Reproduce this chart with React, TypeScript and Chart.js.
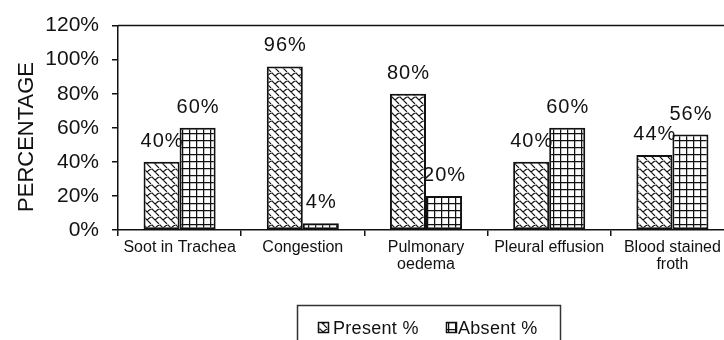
import React, { useEffect, useRef } from 'react';
import { Chart, registerables } from 'chart.js';

Chart.register(...registerables);

const categories: (string | string[])[] = [
  'Soot in Trachea',
  'Congestion',
  ['Pulmonary', 'oedema'],
  'Pleural effusion',
  ['Blood stained', 'froth'],
];
const presentValues = [40, 96, 80, 40, 44];
const absentValues = [60, 4, 20, 60, 56];
const seriesNames = ['Present %', 'Absent %'];
const yAxisTitle = 'PERCENTAGE';

const INK = '#111';
const FONT = '"Liberation Sans", Arial, sans-serif';

function makeGridPattern(ctx: CanvasRenderingContext2D) {
  const c = document.createElement('canvas');
  c.width = 7;
  c.height = 7;
  const g = c.getContext('2d')!;
  g.fillStyle = '#fff';
  g.fillRect(0, 0, 7, 7);
  g.strokeStyle = INK;
  g.lineWidth = 1.5;
  g.beginPath();
  g.moveTo(0.5, 0);
  g.lineTo(0.5, 7);
  g.moveTo(0, 0.5);
  g.lineTo(7, 0.5);
  g.stroke();
  return ctx.createPattern(c, 'repeat')!;
}

function makeShinglePattern(ctx: CanvasRenderingContext2D) {
  const c = document.createElement('canvas');
  c.width = 8;
  c.height = 8;
  const g = c.getContext('2d')!;
  g.fillStyle = '#fff';
  g.fillRect(0, 0, 8, 8);
  g.strokeStyle = INK;
  g.lineWidth = 1.1;
  g.beginPath();
  g.moveTo(0, 1);
  g.lineTo(7, 8);
  g.moveTo(-1, 0);
  g.lineTo(0, 1);
  g.moveTo(3, 4);
  g.lineTo(6, 1.5);
  g.lineTo(8, 1);
  g.stroke();
  return ctx.createPattern(c, 'repeat')!;
}

export default function App() {
  const ref = useRef<HTMLCanvasElement | null>(null);

  useEffect(() => {
    const canvas = ref.current!;
    const ctx = canvas.getContext('2d')!;
    const shingle = makeShinglePattern(ctx);
    const grid = makeGridPattern(ctx);
    const patterns = [shingle, grid];

    const dataLabels = {
      id: 'dataLabels',
      afterDatasetsDraw(chart: any) {
        const c = chart.ctx;
        c.save();
        c.font = `20px ${FONT}`;
        (c as any).letterSpacing = '1px';
        c.fillStyle = INK;
        c.textAlign = 'center';
        c.textBaseline = 'alphabetic';
        chart.data.datasets.forEach((ds: any, i: number) => {
          const meta = chart.getDatasetMeta(i);
          meta.data.forEach((bar: any, j: number) => {
            c.fillText(ds.data[j] + '%', bar.x + 0.5, bar.y - 15);
          });
        });
        c.restore();
      },
    };

    const frame = {
      id: 'frame',
      afterDraw(chart: any) {
        const c = chart.ctx;
        const a = chart.chartArea;
        c.save();
        c.strokeStyle = INK;
        c.lineWidth = 1.5;
        c.beginPath();
        c.moveTo(a.left, a.top);
        c.lineTo(a.right, a.top);
        c.stroke();

        // legend
        const bx = 297.5, by = 305.5, bw = 263, bh = 60;
        c.lineWidth = 1.5;
        c.strokeStyle = '#333';
        c.strokeRect(bx, by, bw, bh);
        c.font = `18px ${FONT}`;
        (c as any).letterSpacing = '0.3px';
        c.fillStyle = INK;
        c.textBaseline = 'alphabetic';
        c.textAlign = 'left';
        const items = [
          { ix: 318, tx: 333 },
          { ix: 446, tx: 458 },
        ];
        chart.data.datasets.forEach((ds: any, i: number) => {
          const it = items[i];
          c.fillStyle = patterns[i];
          c.fillRect(it.ix, 322, 11, 11);
          c.lineWidth = 1.5;
          c.strokeStyle = INK;
          c.strokeRect(it.ix + 0.5, 322.5, 10, 10);
          c.fillStyle = INK;
          c.fillText(ds.label, it.tx, 334);
        });
        c.restore();
      },
    };

    const chart = new Chart(canvas, {
      type: 'bar',
      data: {
        labels: categories,
        datasets: [
          {
            label: seriesNames[0],
            data: presentValues,
            backgroundColor: shingle as any,
            borderColor: INK,
            borderWidth: 2,
            borderSkipped: false,
          },
          {
            label: seriesNames[1],
            data: absentValues,
            backgroundColor: grid as any,
            borderColor: INK,
            borderWidth: 2,
            borderSkipped: false,
          },
        ],
      },
      options: {
        responsive: false,
        animation: false,
        devicePixelRatio: 1,
        layout: { padding: { top: 19, right: 16, left: 0, bottom: 0 } },
        datasets: {
          bar: { categoryPercentage: 0.585, barPercentage: 1 },
        },
        plugins: {
          legend: { display: false },
          tooltip: { enabled: false },
        },
        scales: {
          x: {
            afterFit: (s: any) => {
              s.height = 110;
            },
            grid: {
              display: true,
              drawOnChartArea: false,
              offset: true,
              tickLength: 6,
              color: INK,
              lineWidth: 1.5,
            },
            border: { color: INK, width: 1.5 },
            ticks: {
              color: INK,
              font: { family: FONT, size: 16, lineHeight: 1.07 },
              padding: 3,
              maxRotation: 0,
              autoSkip: false,
            },
          },
          y: {
            min: 0,
            max: 120,
            afterFit: (s: any) => {
              s.width = 118;
            },
            grid: {
              display: true,
              drawOnChartArea: false,
              tickLength: 6,
              color: INK,
              lineWidth: 1.5,
            },
            border: { color: INK, width: 1.5 },
            ticks: {
              stepSize: 20,
              color: INK,
              font: { family: FONT, size: 21 },
              padding: 13,
              callback: (v: any) => v + '%',
            },
            title: {
              display: true,
              text: yAxisTitle + '   ',
              color: INK,
              font: { family: FONT, size: 22 },
              padding: { top: 14, bottom: 0 },
            },
          },
        },
      },
      plugins: [dataLabels, frame],
    });

    return () => chart.destroy();
  }, []);

  return (
    <div
      style={{
        position: 'fixed',
        left: 0,
        top: 0,
        width: 724,
        height: 340,
        overflow: 'hidden',
        background: '#fff',
      }}
    >
      <canvas ref={ref} width={750} height={340} style={{ display: 'block' }} />
    </div>
  );
}
